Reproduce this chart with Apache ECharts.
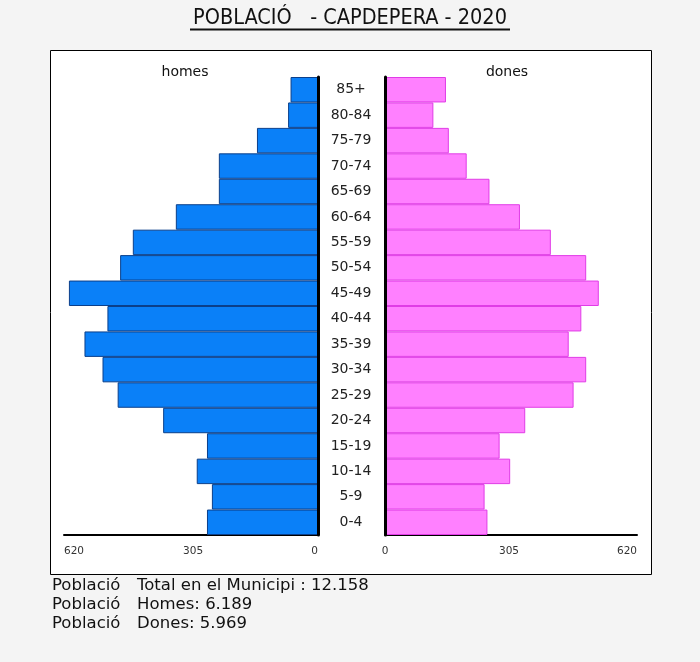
<!DOCTYPE html>
<html>
<head>
<meta charset="utf-8">
<script src="https://cdn.jsdelivr.net/npm/echarts@6/dist/echarts.min.js"></script>
<style>
html,body{margin:0;padding:0;background:#f4f4f4;}
#c{width:700px;height:662px;}
</style>
</head>
<body>
<div id="c"></div>
<script>
var ageGroups = ['0-4','5-9','10-14','15-19','20-24','25-29','30-34','35-39','40-44','45-49','50-54','55-59','60-64','65-69','70-74','75-79','80-84','85+'];
var homes = [271,259,296,271,378,489,526,570,514,608,483,452,347,242,242,149,73,67];
var dones = [252,245,308,282,345,464,495,452,483,526,495,408,332,257,201,157,119,150];
var axisTicks = [0,305,620];
var titleText = 'POBLACIÓ   - CAPDEPERA - 2020';
var footerLabels = ['Població','Població','Població'];
var footerValues = ['Total en el Municipi : 12.158','Homes: 6.189','Dones: 5.969'];

var chart = echarts.init(document.getElementById('c'), null, {renderer:'canvas'});
var FONT = '"DejaVu Sans", Verdana, sans-serif';

var graphics = [
  {type:'rect', z:-10, shape:{x:50.5,y:50.5,width:601,height:524}, style:{fill:'#ffffff',stroke:'#000',lineWidth:1}},
  {type:'text', x:350, y:18, style:{text:titleText, font:'21.5px "Liberation Sans Narrow", "DejaVu Sans Condensed", sans-serif', fill:'#111', align:'center', verticalAlign:'middle'}},
  {type:'line', shape:{x1:190,y1:29.5,x2:510,y2:29.5}, style:{stroke:'#111',lineWidth:2}},
  {type:'text', x:185, y:72, style:{text:'homes', font:'14px '+FONT, fill:'#111', align:'center', verticalAlign:'middle'}},
  {type:'text', x:507, y:72, style:{text:'dones', font:'14px '+FONT, fill:'#111', align:'center', verticalAlign:'middle'}}
];
for (var i=0;i<footerLabels.length;i++){
  graphics.push({type:'text', x:52, y:586+i*19, style:{text:footerLabels[i], font:'16.5px '+FONT, fill:'#111', verticalAlign:'middle'}});
  graphics.push({type:'text', x:137, y:586+i*19, style:{text:footerValues[i], font:'16.5px '+FONT, fill:'#111', verticalAlign:'middle'}});
}

var xLabelStyle = {fontSize:10.5, fontFamily:FONT, color:'#333', margin:11};

chart.setOption({
  backgroundColor:'#f4f4f4',
  animation:false,
  graphic:graphics,
  grid:[
    {left:64, width:254, top:77, height:458},
    {left:385, width:252, top:77, height:458}
  ],
  xAxis:[
    {gridIndex:0, type:'value', inverse:true, min:0, max:620,
     axisLine:{show:true, lineStyle:{color:'#000', width:2}},
     axisTick:{show:false}, splitLine:{show:false},
     axisLabel:Object.assign({customValues:axisTicks, alignMaxLabel:'left', alignMinLabel:'right'}, xLabelStyle)},
    {gridIndex:1, type:'value', min:0, max:620,
     axisLine:{show:true, lineStyle:{color:'#000', width:2}},
     axisTick:{show:false}, splitLine:{show:false},
     axisLabel:Object.assign({customValues:axisTicks, alignMaxLabel:'right', alignMinLabel:'center'}, xLabelStyle)}
  ],
  yAxis:[
    {gridIndex:0, type:'category', data:ageGroups, position:'right', z:5,
     axisLine:{show:true, lineStyle:{color:'#000', width:3}},
     axisTick:{show:false},
     axisLabel:{show:true, align:'center', margin:33, fontSize:14, fontFamily:FONT, color:'#222'}},
    {gridIndex:1, type:'category', data:ageGroups, position:'left', z:5, offset:1,
     axisLine:{show:true, lineStyle:{color:'#000', width:3}},
     axisTick:{show:false}, axisLabel:{show:false}}
  ],
  series:[
    {name:'homes', type:'bar', xAxisIndex:0, yAxisIndex:0, data:homes, barCategoryGap:'0%',
     itemStyle:{color:'#0a80f8', borderColor:'#0b3f8a', borderWidth:1}},
    {name:'dones', type:'bar', xAxisIndex:1, yAxisIndex:1, data:dones, barCategoryGap:'0%',
     itemStyle:{color:'#ff80ff', borderColor:'#e03ce6', borderWidth:1}}
  ]
});
</script>
</body>
</html>
